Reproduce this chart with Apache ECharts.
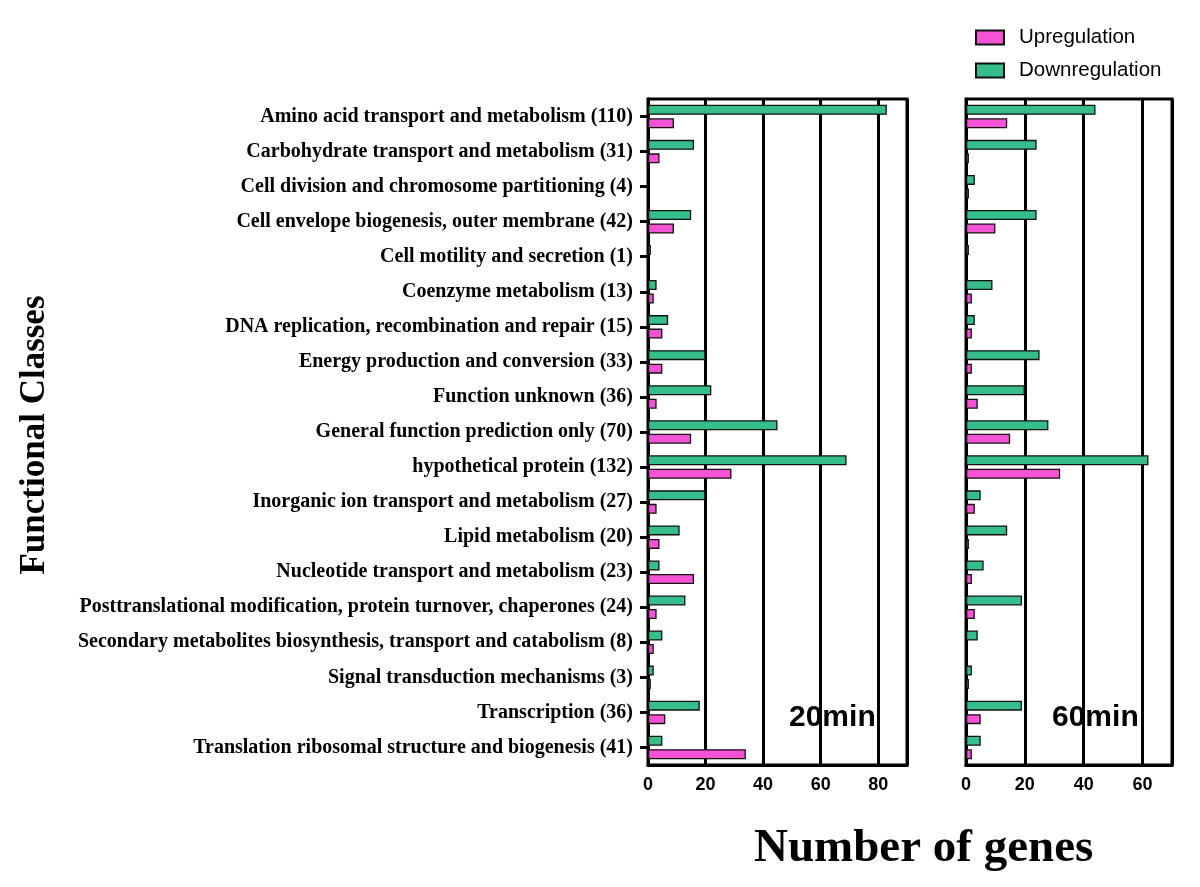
<!DOCTYPE html>
<html>
<head>
<meta charset="utf-8">
<script src="https://cdn.jsdelivr.net/npm/echarts@6/dist/echarts.min.js"></script>
<style>html,body{margin:0;padding:0;background:#fff}#c{width:1200px;height:887px}</style>
</head>
<body>
<div id="c"></div>
<script>
const categories = [
  "Amino acid transport and metabolism (110)",
  "Carbohydrate transport and metabolism (31)",
  "Cell division and chromosome partitioning (4)",
  "Cell envelope biogenesis, outer membrane (42)",
  "Cell motility and secretion (1)",
  "Coenzyme metabolism (13)",
  "DNA replication, recombination and repair (15)",
  "Energy production and conversion (33)",
  "Function unknown (36)",
  "General function prediction only (70)",
  "hypothetical protein (132)",
  "Inorganic ion transport and metabolism (27)",
  "Lipid metabolism (20)",
  "Nucleotide transport and metabolism (23)",
  "Posttranslational modification, protein turnover, chaperones (24)",
  "Secondary metabolites biosynthesis, transport and catabolism (8)",
  "Signal transduction mechanisms (3)",
  "Transcription (36)",
  "Translation ribosomal structure and biogenesis (41)"
];
const down20 = [83, 16, 0, 15, 1, 3, 7, 20, 22, 45, 69, 20, 11, 4, 13, 5, 2, 18, 5];
const up20   = [9, 4, 0, 9, 0, 2, 5, 5, 3, 15, 29, 3, 4, 16, 3, 2, 1, 6, 34];
const down60 = [44, 24, 3, 24, 1, 9, 3, 25, 20, 28, 62, 5, 14, 6, 19, 4, 2, 19, 5];
const up60   = [14, 1, 1, 10, 0, 2, 2, 2, 4, 15, 32, 3, 1, 2, 3, 0, 1, 5, 2];
const ticks20 = [0, 20, 40, 60, 80];
const ticks60 = [0, 20, 40, 60];
const panelNames = ["20min", "60min"];
const seriesNames = ["Upregulation", "Downregulation"];

const PINK = "#F652D6", GREEN = "#35BD8A";
const chart = echarts.init(document.getElementById('c'));

function xAx(gi, max) {
  return {
    type: 'value', gridIndex: gi, min: 0, max: max, interval: 20,
    axisLine: {show: true, lineStyle: {color: '#000', width: 3}},
    axisTick: {show: false},
    splitLine: {show: true, lineStyle: {color: '#000', width: 3}},
    axisLabel: {color: '#000', fontFamily: 'Liberation Sans, Arial', fontWeight: 'bold', fontSize: 18, margin: 11,
      formatter: v => (v === max && v % 20 !== 0) ? '' : String(v)}
  };
}
function yAx(gi, labels) {
  return {
    type: 'category', gridIndex: gi, data: categories, inverse: true,
    axisLine: {show: true, lineStyle: {color: '#000', width: 3}},
    axisTick: {show: labels, alignWithLabel: true, length: 8, lineStyle: {color: '#000', width: 3}},
    axisLabel: {show: labels, color: '#000', fontFamily: 'Liberation Serif, Times New Roman', fontWeight: 'bold', fontSize: 20, margin: 15},
    splitLine: {show: false}
  };
}
function bar(name, data, color, gi) {
  return {
    type: 'bar', name: name, data: data.map(v => v === 0 ? '-' : v), xAxisIndex: gi, yAxisIndex: gi,
    barWidth: 10, barGap: '35%',
    itemStyle: {color: color, borderColor: '#111', borderWidth: 1.3},
    emphasis: {disabled: true}
  };
}

chart.setOption({
  animation: false,
  backgroundColor: '#fff',
  grid: [
    {left: 648, top: 99, width: 259, height: 666, show: true, borderColor: '#000', borderWidth: 3},
    {left: 966, top: 99, width: 206, height: 666, show: true, borderColor: '#000', borderWidth: 3}
  ],
  xAxis: [xAx(0, 90), xAx(1, 70)],
  yAxis: [yAx(0, true), yAx(1, false)],
  legend: {
    data: seriesNames, orient: 'vertical', left: 975, top: 27, padding: 0,
    itemWidth: 28, itemHeight: 14, itemGap: 12,
    textStyle: {color: '#000', fontFamily: 'Liberation Sans, Arial', fontSize: 20.5, padding: [0, 0, 0, 10]},
    icon: 'rect'
  },
  series: [
    bar(seriesNames[1], down20, GREEN, 0),
    bar(seriesNames[0], up20, PINK, 0),
    bar(seriesNames[1], down60, GREEN, 1),
    bar(seriesNames[0], up60, PINK, 1)
  ],
  graphic: [
    {type: 'text', x: 789, y: 703, style: {text: panelNames[0], fill: '#000', font: 'bold 30px "Liberation Sans", Arial'}},
    {type: 'text', x: 1052, y: 703, style: {text: panelNames[1], fill: '#000', font: 'bold 30px "Liberation Sans", Arial'}},
    {type: 'text', x: 754, y: 825, style: {text: 'Number of genes', fill: '#000', font: 'bold 47px "Liberation Serif", "Times New Roman"'}},
    {type: 'text', x: 35, y: 435, rotation: Math.PI / 2,
      style: {text: 'Functional Classes', fill: '#000', align: 'center', verticalAlign: 'middle', font: 'bold 35px "Liberation Serif", "Times New Roman"'}}
  ]
});
</script>
</body>
</html>
